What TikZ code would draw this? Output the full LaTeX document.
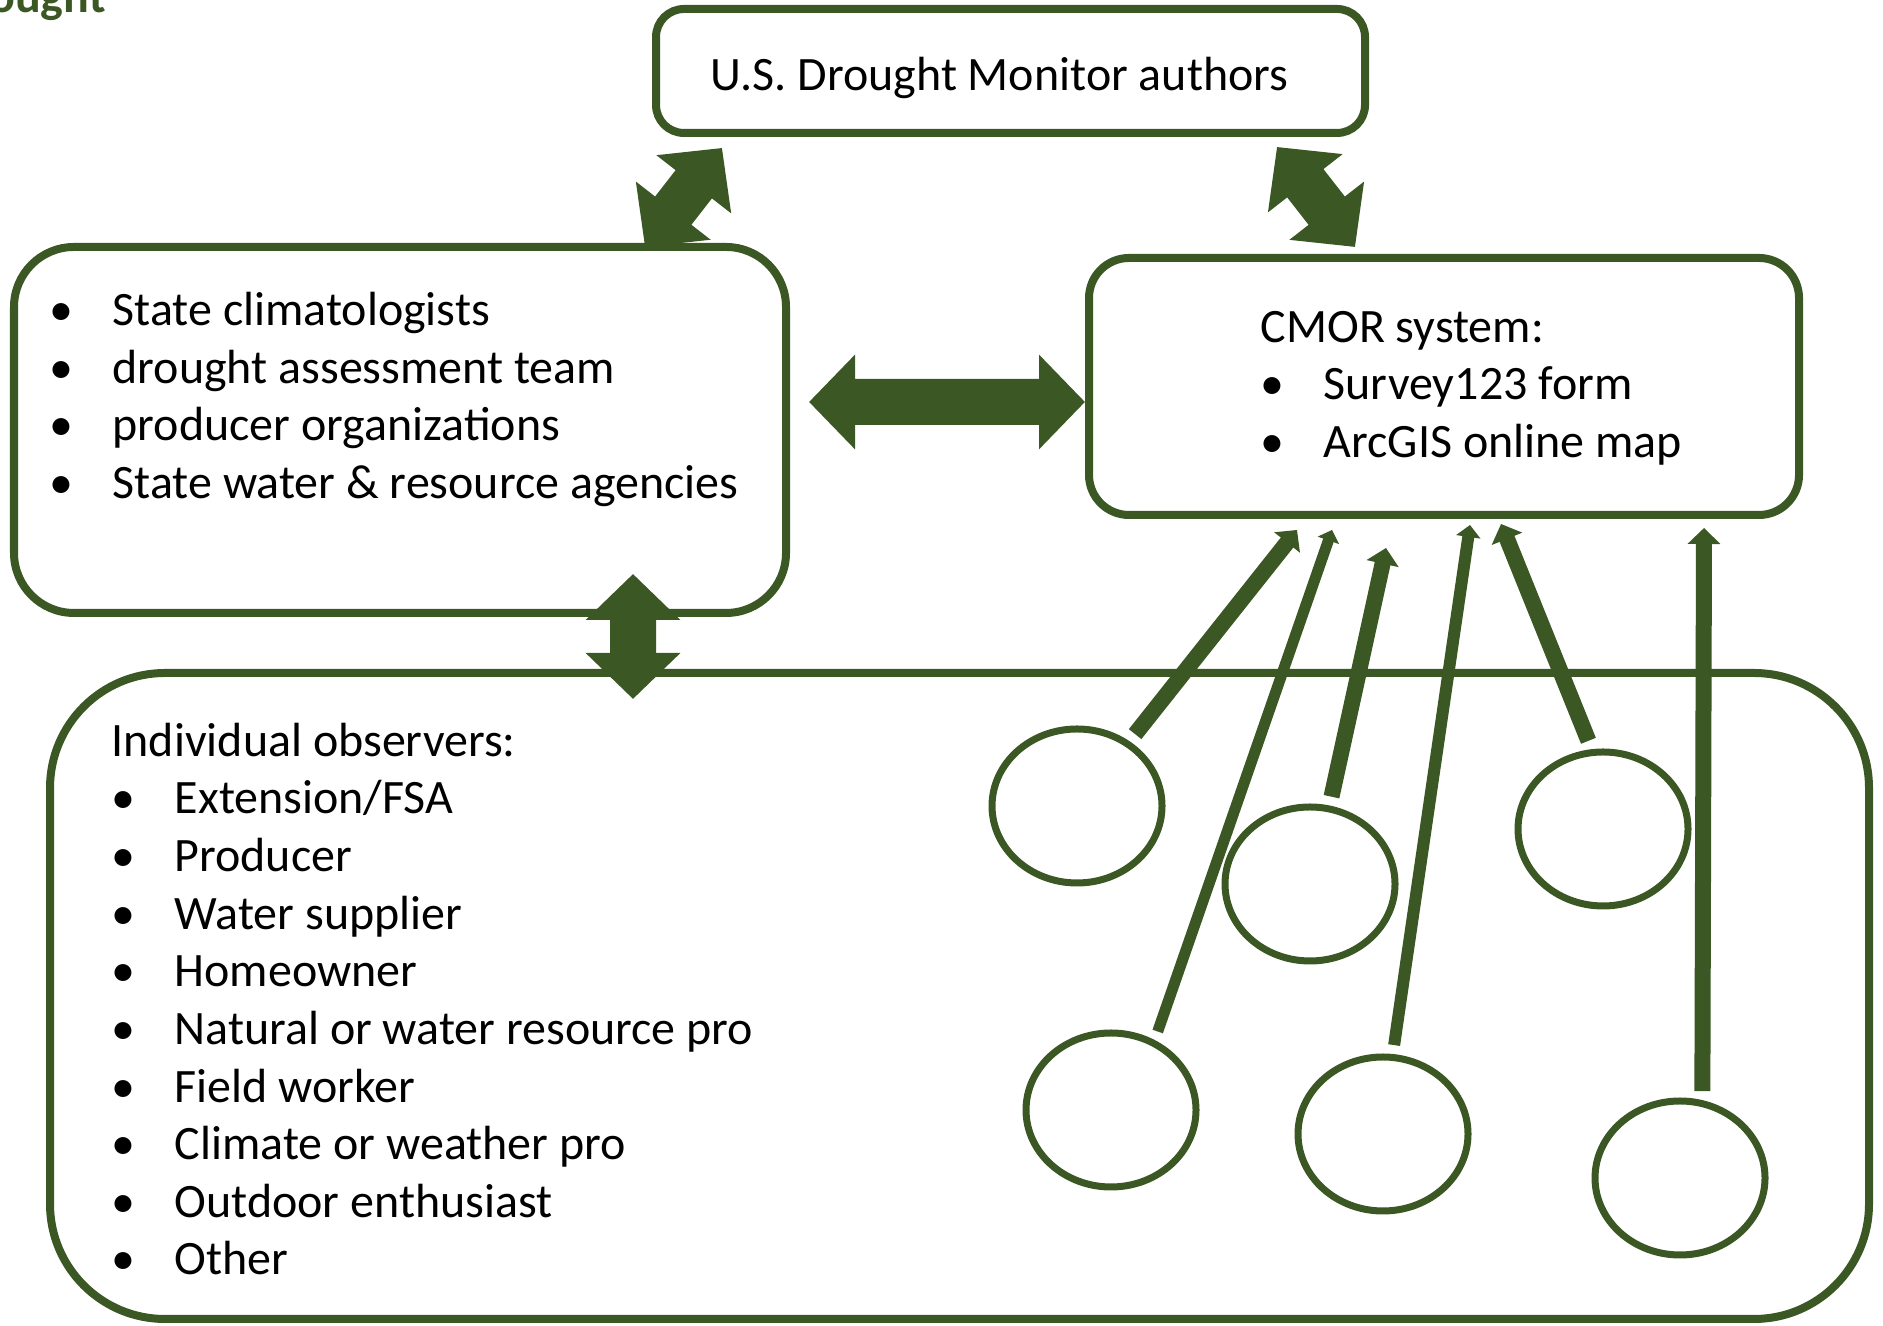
\documentclass[tikz,border=0pt]{standalone}
\usepackage{fontspec}
\setmainfont{Carlito}
\usepackage{xcolor}
\usepackage{tikz}
\usetikzlibrary{arrows.meta}
\usetikzlibrary{shapes.geometric}
\definecolor{cmorgreen}{RGB}{59,87,35}
\newcommand{\bul}{\makebox[0.63cm][l]{\textbullet}}

\begin{document}
\begin{tikzpicture}[
  box/.style = {draw = cmorgreen, line width = .08cm, inner sep = 0pt},
  listtext/.style = {anchor = base west, align = left, inner sep = 0pt, font = \fontsize{13.65}{16.4}\selectfont},
  observer/.style = {ellipse, draw = cmorgreen, line width = .07cm, minimum width = 1.7cm, minimum height = 1.54cm, inner sep = 0pt},
  flow/.style = {draw = cmorgreen, line width = .46cm, {Triangle[length = 0pt 1, width = 0pt 2]}-{Triangle[length = 0pt 1, width = 0pt 2]}},
  report/.style = {draw = cmorgreen, -{Triangle[length = 0pt 1, width = 0pt 2]}, shorten < = .09cm}]
\useasboundingbox (0, 0) rectangle (18.83, 13.26);

\begin{scope}
\clip (0, 0) rectangle (18.83, 13.26);
\node [listtext, text = cmorgreen, font = \fontsize{13.65}{16.4}\selectfont\bfseries] (title) at (-.58, 13.13) {Drought};
\end{scope}

% base anchor of a list sits on its last line
\node [box, rounded corners = .28cm, minimum width = 7.09cm, minimum height = 1.24cm] (usdm) at (10.105, 12.55) {};
\node [listtext] (usdmtext) at (7.1, 12.355) {U.S. Drought Monitor authors};

\node [box, rounded corners = .6cm, minimum width = 7.72cm, minimum height = 3.66cm] (state) at (4, 8.96) {};
\node [listtext] (statetext) at (.49, 8.275) {\bul State climatologists\\ \bul drought assessment team\\ \bul producer organizations\\ \bul State water \& resource agencies};

\node [box, rounded corners = .4cm, minimum width = 7.1cm, minimum height = 2.57cm] (cmor) at (14.44, 9.395) {};
\node [listtext] (cmortext) at (12.6, 8.685) {CMOR system:\\ \bul Survey123 form\\ \bul ArcGIS online map};

\node [box, rounded corners = 1.15cm, minimum width = 18.19cm, minimum height = 6.46cm] (obs) at (9.595, 3.3) {};
\node [listtext] (obstext) at (1.11, .51) {Individual observers:\\ \bul Extension/FSA\\ \bul Producer\\ \bul Water supplier\\ \bul Homeowner\\ \bul Natural or water resource pro\\ \bul Field worker\\ \bul Climate or weather pro\\ \bul Outdoor enthusiast\\ \bul Other};

% two-way exchanges
\draw [flow] ([shift = {(-2.885, -.11)}]usdm.south) -- ([shift = {(2.45, -.04)}]state.north);
\draw [flow] ([shift = {(2.665, -.1)}]usdm.south) -- ([shift = {(-.89, .07)}]cmor.north);
\draw [flow] ([shift = {(.19, .28)}]state.east) -- ([yshift = -.155cm]cmor.west);
\draw [flow] ([shift = {(2.33, .43)}]state.south) -- ([shift = {(-3.265, -.3)}]obs.north);

% observers report to CMOR
\node [observer] (o1) at (10.77, 5.2) {};
\node [observer] (o2) at (13.1, 4.42) {};
\node [observer] (o3) at (16.03, 4.97) {};
\node [observer] (o4) at (11.11, 2.16) {};
\node [observer] (o5) at (13.83, 1.92) {};
\node [observer] (o6) at (16.8, 1.48) {};

\foreach \from/\ang/\dx/\dy/\w in {o1/51/-1.47/-.11/.16, o4/58/-1.12/-.11/.11, o2/76/-.58/-.29/.16, o5/83/.26/-.06/.12, o3/98/.57/-.05/.16, o6/74/2.6/-.09/.16}
\draw [report, line width = \w cm] (\from.\ang) -- ([shift = {(\dx, \dy)}]cmor.south);
\end{tikzpicture}
\end{document}
